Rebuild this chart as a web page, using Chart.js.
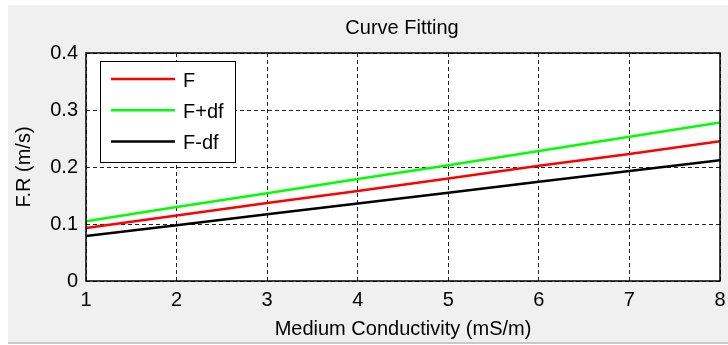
<!DOCTYPE html>
<html>
<head>
<meta charset="utf-8">
<script src="https://cdn.jsdelivr.net/npm/chart.js@4/dist/chart.umd.min.js"></script>
<style>
    html, body { margin: 0; padding: 0; background: #ffffff; }
    #wrap { width: 728px; height: 345px; position: relative; }
</style>
</head>
<body>
<div id="wrap"><canvas id="fit-chart"></canvas></div>
<script>
// values
const conductivity = [1, 2, 3, 4, 5, 6, 7, 8];
const fValues = [0.093, 0.115, 0.137, 0.158, 0.180, 0.202, 0.223, 0.245];
const fPlusValues = [0.105, 0.130, 0.154, 0.179, 0.203, 0.228, 0.253, 0.278];
const fMinusValues = [0.079, 0.098, 0.117, 0.136, 0.155, 0.174, 0.193, 0.212];
const seriesLabels = ['F', 'F+df', 'F-df'];
const seriesColors = ['#ff0000', '#00ff00', '#000000'];
const chartTitle = 'Curve Fitting';

const FONT = '"Liberation Sans", Arial, sans-serif';
const FONT_SIZE = 20;

const toPoints = (values) => conductivity.map((x, i) => ({x: x, y: values[i]}));

// grey figure panel behind everything
const panelBackground = {
    id: 'panelBackground',
    beforeDraw(chart) {
        const ctx = chart.ctx;
        ctx.save();
        ctx.fillStyle = '#ffffff';
        ctx.fillRect(0, 0, chart.width, chart.height);
        ctx.fillStyle = '#f0f0f0';
        ctx.fillRect(8, 5, chart.width - 8, 337);
        ctx.fillStyle = '#c8c8c8';
        ctx.fillRect(8, 342, chart.width - 8, 2);
        const a = chart.chartArea;
        ctx.fillStyle = '#ffffff';
        ctx.fillRect(a.left, a.top, a.right - a.left, a.bottom - a.top);
        ctx.restore();
    }
};

// matlab style box, title and legend inside the axes
const boxAndLegend = {
    id: 'boxAndLegend',
    afterDatasetsDraw(chart) {
        const ctx = chart.ctx;
        const a = chart.chartArea;
        ctx.save();
        ctx.strokeStyle = '#000000';
        ctx.lineWidth = 1.5;
        ctx.strokeRect(a.left, a.top, a.right - a.left, a.bottom - a.top);

        ctx.fillStyle = '#000000';
        ctx.font = FONT_SIZE + 'px ' + FONT;
        ctx.textAlign = 'center';
        ctx.textBaseline = 'middle';
        ctx.fillText(chartTitle, (a.left + a.right) / 2 - 1, 28);

        const bx = a.left + 14, by = a.top + 8, bw = 135, bh = 101;
        ctx.fillStyle = '#ffffff';
        ctx.fillRect(bx, by, bw, bh);
        ctx.strokeStyle = '#000000';
        ctx.lineWidth = 1;
        ctx.strokeRect(bx + 0.5, by + 0.5, bw, bh);
        ctx.textAlign = 'left';
        seriesLabels.forEach((label, i) => {
            const y = by + 18 + i * 31.3;
            ctx.strokeStyle = seriesColors[i];
            ctx.lineWidth = 2.5;
            ctx.beginPath();
            ctx.moveTo(bx + 11, y);
            ctx.lineTo(bx + 75, y);
            ctx.stroke();
            ctx.fillStyle = '#000000';
            ctx.fillText(label, bx + 83, y + 2);
        });
        ctx.restore();
    }
};

const makeDataset = (label, values, color) => ({
    label: label,
    data: toPoints(values),
    borderColor: color,
    backgroundColor: color,
    borderWidth: 2.5,
    pointRadius: 0,
    tension: 0
});

new Chart(document.getElementById('fit-chart'), {
    type: 'line',
    plugins: [panelBackground, boxAndLegend],
    data: {
        datasets: [
            makeDataset(seriesLabels[0], fValues, seriesColors[0]),
            makeDataset(seriesLabels[1], fPlusValues, seriesColors[1]),
            makeDataset(seriesLabels[2], fMinusValues, seriesColors[2])
        ]
    },
    options: {
        responsive: true,
        maintainAspectRatio: false,
        animation: false,
        layout: {
            padding: {top: 53, left: 0, right: 0, bottom: 3}
        },
        plugins: {
            legend: {display: false},
            tooltip: {enabled: false},
            title: {display: false}
        },
        scales: {
            x: {
                type: 'linear',
                min: 1,
                max: 8,
                afterFit(scale) {
                    scale.height = 61;
                    scale.paddingLeft = 0;
                    scale.paddingRight = 8;
                },
                ticks: {
                    stepSize: 1,
                    color: '#000000',
                    font: {family: FONT, size: FONT_SIZE},
                    padding: 7
                },
                grid: {
                    color: '#222222',
                    lineWidth: 1,
                    drawTicks: false
                },
                border: {display: false, dash: [4, 3]},
                title: {
                    display: true,
                    text: 'Medium Conductivity (mS/m)',
                    color: '#000000',
                    font: {family: FONT, size: FONT_SIZE},
                    padding: {top: 0, bottom: 1}
                }
            },
            y: {
                min: 0,
                max: 0.4,
                afterFit(scale) { scale.width = 86; },
                ticks: {
                    stepSize: 0.1,
                    color: '#000000',
                    font: {family: FONT, size: FONT_SIZE},
                    padding: 8
                },
                grid: {
                    color: '#222222',
                    lineWidth: 1,
                    drawTicks: false
                },
                border: {display: false, dash: [4, 3]},
                title: {
                    display: true,
                    text: 'F.R (m/s)',
                    color: '#000000',
                    font: {family: FONT, size: FONT_SIZE},
                    padding: {top: 12, bottom: 0}
                }
            }
        }
    }
});
</script>
</body>
</html>
